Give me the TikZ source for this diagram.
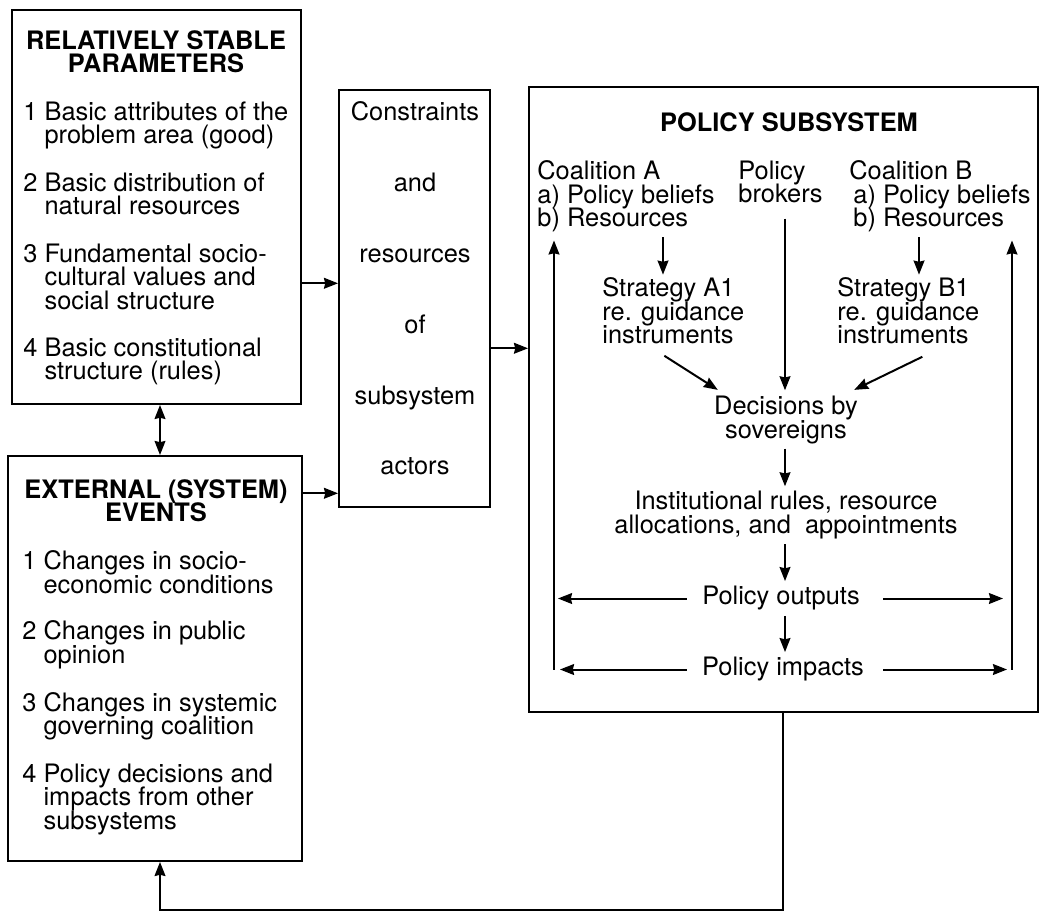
\documentclass[tikz,border=0pt]{standalone}
\usepackage{fontspec}
\setmainfont{TeX Gyre Heros}
\usetikzlibrary{positioning}
\usetikzlibrary{fit}
\usetikzlibrary{arrows.meta}

\newcommand{\txtfont}{\fontsize{12.7}{11.75}\selectfont\lineskiplimit=-6pt}
\newcommand{\ttlfont}{\fontsize{12.7}{11.4}\selectfont\bfseries\lineskiplimit=-6pt}
\newcommand{\ind}{\hphantom{1 }}

\begin{document}
\begin{tikzpicture}[x=0.5pt,y=-0.5pt]
        \useasboundingbox (0,0) rectangle (1040,913);

        % the four boxes
        \begin{scope}[every node/.style={draw,line width=1pt,inner sep=0pt}]
            \node[fit={(12,10) (301,404)}] (stable) {};
            \node[fit={(8,456) (302,861)}] (events) {};
            \node[fit={(339,90) (490,507)}] (cons) {};
            \node[fit={(529,87) (1038,712)}] (subsys) {};
        \end{scope}

        % texts, placed by the baseline of their last line
        \begin{scope}[every node/.style={inner sep=0pt,align=left,font=\txtfont}]
            \node[anchor=base,align=center,font=\ttlfont] (stabletitle) at (156,72.7) {RELATIVELY STABLE\\PARAMETERS};
            \node[anchor=base west] (st1) at (23,144) {1 Basic attributes of the\\\ind problem area (good)};
            \node[anchor=base west] (st2) at (23,215) {2 Basic distribution of\\\ind natural resources};
            \node[anchor=base west] (st3) at (23,309.3) {3 Fundamental socio-\\\ind cultural values and\\\ind social structure};
            \node[anchor=base west] (st4) at (23,380) {4 Basic constitutional\\\ind structure (rules)};

            \node[anchor=base,align=center,font=\ttlfont] (evtitle) at (156,521.7) {EXTERNAL (SYSTEM)\\EVENTS};
            \node[anchor=base west] (ev1) at (22,593.3) {1 Changes in socio-\\\ind economic conditions};
            \node[anchor=base west] (ev2) at (22,663.3) {2 Changes in public\\\ind opinion};
            \node[anchor=base west] (ev3) at (22,735) {3 Changes in systemic\\\ind governing coalition};
            \node[anchor=base west] (ev4) at (22,829.3) {4 Policy decisions and\\\ind impacts from other\\\ind subsystems};

            \node[anchor=base,align=center,font=\fontsize{12.7}{35.4}\selectfont] (constxt) at (415,475) {Constraints\\and\\resources\\of\\subsystem\\actors};

            \node[anchor=base,font=\ttlfont] (subtitle) at (789,131.7) {POLICY SUBSYSTEM};
            \node[anchor=base west] (coalA) at (537,226.7) {Coalition A\\a) Policy beliefs\\b) Resources};
            \node[anchor=base west] (brokers) at (738,202.7) {Policy\\brokers};
            \node[anchor=base west] (coalB) at (849,226.7) {Coalition B\\\hspace{2pt}a) Policy beliefs\\\hspace{2pt}b) Resources};
            \node[anchor=base west] (stratA) at (602,344) {Strategy A1\\re. guidance\\instruments};
            \node[anchor=base west] (stratB) at (837,344) {Strategy B1\\re. guidance\\instruments};
            \node[anchor=base,align=center] (decisions) at (786,438.3) {Decisions by\\sovereigns};
            \node[anchor=base,align=center] (rules) at (786,533.3) {Institutional rules, resource\\allocations, and\ \ appointments};
            \node[anchor=base] (outputs) at (781,605) {Policy outputs};
            \node[anchor=base] (impacts) at (783,676) {Policy impacts};
        \end{scope}

        % rows and columns the arrows run along
        \coordinate (rowA) at (0,283.3);
        \coordinate (rowB) at (0,493.3);
        \coordinate (rowC) at (0,348.3);
        \coordinate (colA) at (663,0);
        \coordinate (colM) at (785,0);
        \coordinate (colB) at (919,0);
        \coordinate (colL) at (554,0);
        \coordinate (colR) at (1012,0);
        \coordinate (fbL) at (160,910);
        \coordinate (fbR) at (783,910);

        \begin{scope}[>={Stealth[length=7pt,width=5.4pt,inset=0.6pt]},
            every path/.style={draw=black,line width=1pt}]
            \draw[->] (stable.east |- rowA) -- (cons.west |- rowA);
            \draw[->] (events.east |- rowB) -- (cons.west |- rowB);
            \draw[->] (cons.east |- rowC) -- (subsys.west |- rowC);
            \draw[<->] (stable.south -| fbL) -- (events.north -| fbL);
            \draw[->] (subsys.south -| fbR) -- (fbR) -- (fbL) -- (events.south -| fbL);

            \draw[->,shorten <=2.5pt,shorten >=1.5pt] (coalA.south -| colA) -- (stratA.north -| colA);
            \draw[->,shorten <=2.5pt,shorten >=1.5pt] (coalB.south -| colB) -- (stratB.north -| colB);
            \draw[->,shorten <=7.6pt,shorten >=2.8pt] (brokers.south -| colM) -- (decisions.north -| colM);
            \draw[->] ([xshift=-4.5pt,yshift=-5.5pt]stratA.south) -- ([xshift=2pt,yshift=3pt]decisions.north west);
            \draw[->] ([xshift=7pt,yshift=-6pt]stratB.south) -- ([xshift=-2pt,yshift=3pt]decisions.north east);
            \draw[->,shorten <=2.2pt,shorten >=2.3pt] (decisions.south -| colM) -- (rules.north -| colM);
            \draw[->,shorten <=2.5pt,shorten >=2.5pt] (rules.south -| colM) -- (outputs.north -| colM);
            \draw[->,shorten <=2.5pt,shorten >=2.5pt] (outputs.south -| colM) -- (impacts.north -| colM);

            \draw[->,shorten >=2pt] ([xshift=-7.6pt]outputs.west) -- (outputs.west -| colL);
            \draw[->,shorten >=4.5pt] ([xshift=11.6pt]outputs.east) -- (outputs.east -| colR);
            \draw[->,shorten >=3pt] ([xshift=-7.6pt]impacts.west) -- (impacts.west -| colL);
            \draw[->,shorten >=2.5pt] ([xshift=9.5pt]impacts.east) -- (impacts.east -| colR);
            \draw[->,shorten >=4pt] (impacts.west -| colL) -- (coalA.south -| colL);
            \draw[->,shorten >=4pt] (impacts.east -| colR) -- (coalB.south -| colR);
        \end{scope}
    \end{tikzpicture}
\end{document}
